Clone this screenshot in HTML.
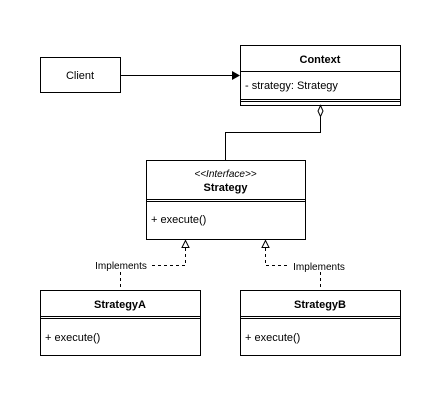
<!DOCTYPE html>
<html><head><style>body{margin:0;background:#fff}</style></head><body>
<svg width="440" height="400" xmlns="http://www.w3.org/2000/svg" font-family="Liberation Sans, Arial, sans-serif" font-size="11">
<rect width="440" height="400" fill="#fff"/>
<g fill="none" stroke="#000" stroke-width="1">
<rect x="40.5" y="57.5" width="80" height="35"/>
<rect x="240.5" y="45.5" width="160" height="60"/>
<line x1="240" y1="71.5" x2="400" y2="71.5"/>
<line x1="240" y1="99.5" x2="400" y2="99.5"/>
<line x1="240" y1="101.5" x2="400" y2="101.5"/>
<rect x="146.5" y="160.5" width="159" height="79"/>
<line x1="146" y1="199.5" x2="305" y2="199.5"/>
<line x1="146" y1="201.5" x2="305" y2="201.5"/>
<rect x="40.5" y="290.5" width="160" height="65"/>
<line x1="40" y1="316.5" x2="200" y2="316.5"/>
<line x1="40" y1="318.5" x2="200" y2="318.5"/>
<rect x="240.5" y="290.5" width="160" height="65"/>
<line x1="240" y1="316.5" x2="400" y2="316.5"/>
<line x1="240" y1="318.5" x2="400" y2="318.5"/>
<line x1="120" y1="75.5" x2="233" y2="75.5"/>
<polyline points="320.5,117 320.5,132.5 225.5,132.5 225.5,160"/>
<g stroke-dasharray="3,3">
<polyline points="185.5,248 185.5,265.5 151,265.5"/>
<line x1="120.5" y1="272" x2="120.5" y2="290"/>
<polyline points="265.5,248 265.5,265.5 289,265.5"/>
<line x1="320.5" y1="272" x2="320.5" y2="290"/>
</g>
<polygon points="185.5,240.5 182,247.5 189,247.5" fill="#fff"/>
<polygon points="265.5,240.5 262,247.5 269,247.5" fill="#fff"/>
<polygon points="320.5,105.5 318,111 320.5,116.5 323,111" fill="#fff"/>
</g>
<polygon points="240,75.5 232,71 232,80" fill="#000"/>
<text x="80" y="79" text-anchor="middle">Client</text>
<text x="320" y="63" text-anchor="middle" font-weight="bold">Context</text>
<text x="245" y="89">- strategy: Strategy</text>
<text x="225.5" y="177" text-anchor="middle" font-style="italic" font-size="10">&lt;&lt;Interface&gt;&gt;</text>
<text x="225.5" y="191" text-anchor="middle" font-weight="bold">Strategy</text>
<text x="151" y="223">+ execute()</text>
<text x="120" y="308" text-anchor="middle" font-weight="bold">StrategyA</text>
<text x="45" y="341">+ execute()</text>
<text x="320" y="308" text-anchor="middle" font-weight="bold">StrategyB</text>
<text x="245" y="341">+ execute()</text>
<text x="121" y="269" text-anchor="middle" font-size="10">Implements</text>
<text x="319" y="270" text-anchor="middle" font-size="10">Implements</text>
</svg>
</body></html>
